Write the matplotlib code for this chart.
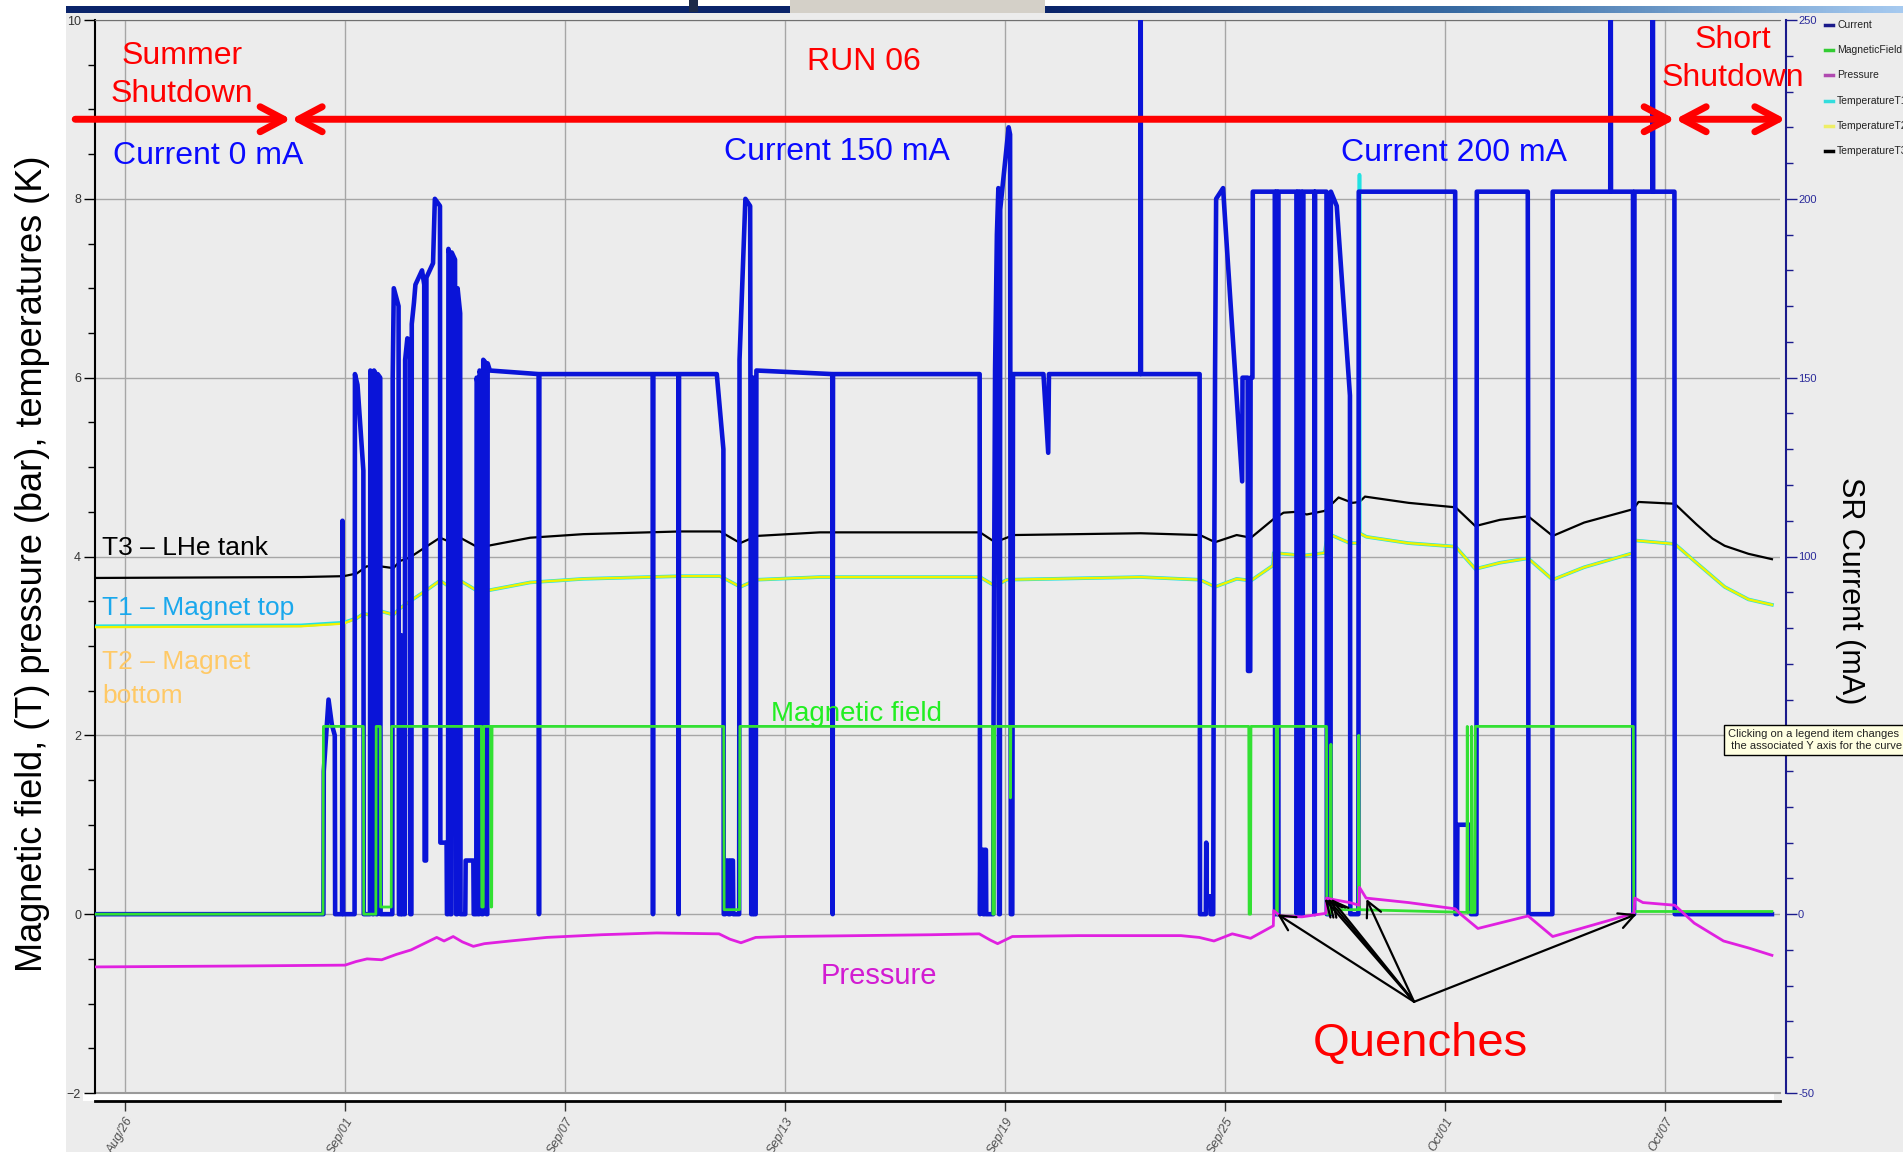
import matplotlib
matplotlib.use('Agg')
import matplotlib.pyplot as plt
import matplotlib.dates as mdates
from matplotlib.patches import Rectangle
from matplotlib.lines import Line2D
from matplotlib.colors import LinearSegmentedColormap
from matplotlib.ticker import MultipleLocator
import numpy as np
import pandas as pd

plt.rcParams['font.family'] = ['Liberation Sans', 'DejaVu Sans']

# all times are in days counted from Aug 26, 00:00
start = pd.Timestamp('2009-08-26')

# SR current (mA)
current_t = [-0.82, 5.41, 5.42, 5.55, 5.64, 5.72, 5.73,
             5.92, 5.93, 5.95,
             6.26, 6.27, 6.34, 6.50, 6.51,
             6.68, 6.69, 6.74, 6.75, 6.78, 6.79, 6.84, 6.85, 6.88, 6.89, 6.96, 6.97,
             7.29, 7.30, 7.33, 7.46, 7.47,
             7.52, 7.53, 7.55,
             7.63, 7.64, 7.70, 7.77, 7.78,
             7.81, 7.82, 7.88, 7.92, 8.10, 8.16, 8.17, 8.21, 8.22, 8.40, 8.45, 8.59, 8.60, 8.77, 8.78,
             8.81, 8.82, 8.86, 8.87, 8.90, 8.91, 9.00, 9.03, 9.06, 9.07, 9.14, 9.15,
             9.28, 9.29, 9.50, 9.51,
             9.58, 9.59, 9.62, 9.63, 9.66, 9.67, 9.72, 9.73, 9.76, 9.77, 9.85, 9.86, 9.88, 9.89, 9.95,
             11.28, 11.29, 11.30, 14.39, 14.40, 14.41, 15.09, 15.10, 15.11,
             16.14, 16.32, 16.33, 16.37, 16.38, 16.45, 16.46, 16.50, 16.51, 16.58, 16.59,
             16.75, 16.76, 16.92, 17.05, 17.08, 17.12, 17.13, 17.16, 17.20, 17.22,
             19.29, 19.30, 19.31,
             23.31, 23.32, 23.33, 23.40, 23.41, 23.44, 23.45, 23.48, 23.49,
             23.68, 23.69, 23.73, 23.78, 23.82, 23.84, 23.86, 23.87, 24.00, 24.10, 24.14, 24.16, 24.20, 24.22,
             25.05, 25.18, 25.20, 27.69, 27.70, 27.71,
             29.31, 29.32, 29.48, 29.49, 29.50, 29.60, 29.61,
             29.68, 29.69, 29.73, 29.76, 29.95, 29.98, 30.47, 30.48, 30.62, 30.63, 30.69, 30.70, 30.75, 30.76,
             31.36, 31.37, 31.39, 31.41, 31.43, 31.45, 31.46,
             31.95, 31.96, 31.98, 32.00, 32.02, 32.04, 32.06, 32.08, 32.10, 32.12, 32.14,
             32.44, 32.45, 32.46,
             32.77, 32.78, 32.88, 32.89, 33.05, 33.41, 33.42, 33.64, 33.65,
             36.28, 36.29, 36.33, 36.34, 36.70, 36.71, 36.86, 36.87,
             38.26, 38.27, 38.28, 38.93, 38.94,
             40.51, 40.52, 40.53, 41.13, 41.14, 41.16, 41.17,
             41.66, 41.67, 41.68, 42.26, 42.27, 44.92]
current_mA = [0, 0, 40, 60, 53, 50, 0,
              0, 110, 0,
              0, 151, 148, 124, 0,
              0, 152, 150, 0, 0, 152, 151, 0, 0, 151, 150, 0,
              0, 150, 175, 170, 0,
              0, 78, 0,
              0, 155, 161, 160, 0,
              0, 165, 171, 176, 180, 176, 15, 15, 178, 182, 200, 198, 20, 20, 0,
              0, 186, 184, 0, 0, 185, 183, 0, 0, 175, 168, 0,
              0, 15, 15, 0,
              0, 150, 148, 0, 0, 152, 150, 0, 0, 155, 154, 0, 0, 154, 152,
              151, 0, 151, 151, 0, 151, 151, 0, 151,
              151, 130, 0, 0, 15, 15, 0, 0, 15, 15, 0,
              0, 155, 200, 198, 0, 0, 150, 0, 0, 152,
              151, 0, 151,
              151, 0, 18, 18, 0, 0, 18, 18, 0,
              0, 60, 152, 190, 203, 0, 0, 197, 210, 220, 218, 0, 0, 151,
              151, 129, 151, 151, 300, 151,
              151, 0, 0, 20, 5, 5, 0,
              0, 50, 150, 200, 203, 198, 121, 150, 150, 68, 68, 150, 150, 202,
              202, 0, 202, 0, 202, 0, 202,
              202, 0, 202, 0, 202, 0, 202, 0, 202, 0, 202,
              202, 0, 202,
              202, 0, 0, 202, 198, 145, 0, 0, 202,
              202, 0, 0, 25, 25, 0, 0, 202,
              202, 138, 0, 0, 202,
              202, 300, 202, 202, 0, 0, 202,
              202, 300, 202, 202, 0, 0]

# magnet field (T)
field_t = [-0.82, 5.40, 5.41, 6.50, 6.51, 6.84, 6.85, 6.96, 6.97, 7.26, 7.27, 9.72, 9.73, 9.77,
           9.78, 9.97, 9.98, 10.00, 10.01, 16.33, 16.34, 16.76, 16.77, 23.66, 23.67, 23.71, 23.72,
           24.14, 24.15, 24.16, 30.65, 30.66, 30.70, 30.71, 31.40, 31.41, 31.43, 31.44, 32.77,
           32.78, 32.88, 32.89, 32.90, 33.64, 33.65, 33.67, 36.60, 36.61, 36.63, 36.72, 36.73,
           36.75, 36.82, 36.83, 41.14, 41.15, 44.92]
field_T = [0, 0, 2.1, 2.1, 0, 0, 2.1, 2.1, 0.08, 0.08, 2.1, 2.1, 0.08, 0.08,
           2.1, 2.1, 0.08, 0.08, 2.1, 2.1, 0.05, 0.05, 2.1, 2.1, 0, 0, 2.1,
           2.1, 1.3, 2.1, 2.1, 0, 0, 2.1, 2.1, 0, 0, 2.1, 2.1,
           0, 0, 1.9, 0.05, 0.05, 2.0, 0.05, 0.02, 2.1, 0.02, 0.02, 2.1,
           0.02, 0.02, 2.1, 2.1, 0.03, 0.03]

# helium pressure (bar)
pressure_t = [-0.82, 3.0, 6.0, 6.3, 6.6, 7.0, 7.4, 7.8, 8.3, 8.5, 8.7, 8.95, 9.2, 9.5, 9.8,
              10.5, 11.5, 13.0, 14.5, 16.2, 16.5, 16.8, 17.2, 18.0, 20.0, 22.0, 23.3, 23.6,
              23.8, 24.2, 26.0, 28.8, 29.3, 29.7, 30.2, 30.7, 31.32, 31.33, 31.5, 32.1, 32.76,
              32.77, 33.0, 33.4, 33.66, 33.67, 33.85, 35.0, 36.28, 36.4, 36.9, 38.27, 38.94,
              41.16, 41.18, 41.4, 42.27, 42.8, 43.6, 44.3, 44.92]
pressure_bar = [-0.59, -0.58, -0.57, -0.53, -0.50, -0.51, -0.45, -0.40, -0.30, -0.26, -0.30, -0.25, -0.31, -0.36, -0.33,
                -0.30, -0.26, -0.23, -0.21, -0.22, -0.28, -0.32, -0.26, -0.25, -0.24, -0.23, -0.22, -0.29,
                -0.33, -0.25, -0.24, -0.24, -0.26, -0.30, -0.22, -0.27, -0.13, 0.04, -0.02, -0.03, 0.01,
                0.18, 0.16, 0.13, 0.10, 0.30, 0.18, 0.13, 0.06, 0.01, -0.16, -0.02, -0.25,
                0.01, 0.18, 0.13, 0.10, -0.10, -0.30, -0.38, -0.46]

# T3 - LHe tank (K)
t3_t = [-0.82, 4.8, 5.96, 6.32, 6.59, 6.96, 7.32, 7.5, 7.77, 8.14, 8.59, 8.82, 9.14, 9.59, 9.77,
        11.05, 12.5, 15.14, 16.23, 16.78, 17.23, 18.95, 23.32, 23.73, 24.05, 24.23, 27.7, 29.32,
        29.73, 30.32, 30.71, 31.33, 31.6, 31.96, 32.23, 32.72, 33.1, 33.48, 33.67, 33.82, 35.01,
        36.29, 36.83, 37.5, 38.27, 38.94, 39.8, 41.14, 41.28, 42.27, 42.5, 42.86, 43.3, 43.63,
        44.28, 44.92]
t3_K = [3.76, 3.77, 3.78, 3.81, 3.89, 3.89, 3.87, 3.95, 3.99, 4.09, 4.21, 4.17, 4.21, 4.11, 4.11,
        4.21, 4.25, 4.28, 4.28, 4.15, 4.23, 4.27, 4.27, 4.16, 4.21, 4.24, 4.26, 4.24,
        4.16, 4.24, 4.21, 4.42, 4.49, 4.50, 4.47, 4.51, 4.66, 4.60, 4.61, 4.67, 4.60,
        4.55, 4.34, 4.41, 4.45, 4.23, 4.38, 4.53, 4.61, 4.59, 4.50, 4.36, 4.20, 4.12,
        4.03, 3.97]

# T2 - magnet bottom (K)
t2_t = [-0.82, 4.8, 5.96, 6.32, 6.5, 6.8, 6.96, 7.32, 7.5, 7.77, 8.14, 8.59, 8.82, 9.14, 9.59,
        9.77, 11.05, 12.5, 15.14, 16.23, 16.78, 17.23, 18.95, 23.32, 23.73, 24.05, 27.7, 29.32,
        29.73, 30.32, 30.71, 31.31, 31.33, 32.14, 32.72, 32.77, 32.9, 33.4, 33.66, 33.67, 33.86,
        35.0, 36.29, 36.83, 37.5, 38.27, 38.94, 39.8, 41.14, 41.18, 42.27, 42.86, 43.63, 44.28,
        44.92]
t2_K = [3.21, 3.22, 3.25, 3.31, 3.36, 3.34, 3.39, 3.35, 3.42, 3.50, 3.60, 3.73, 3.67, 3.73, 3.62,
        3.61, 3.71, 3.75, 3.78, 3.78, 3.66, 3.74, 3.77, 3.77, 3.67, 3.74, 3.77, 3.74,
        3.66, 3.75, 3.73, 3.90, 4.04, 4.01, 4.04, 4.18, 4.24, 4.15, 4.15, 4.26, 4.22,
        4.15, 4.11, 3.86, 3.93, 3.98, 3.74, 3.88, 4.04, 4.18, 4.14, 3.93, 3.66, 3.52,
        3.46]

# T1 - magnet top (K), spikes at the quenches
t1_t = [-0.82, 4.8, 5.96, 6.32, 6.5, 6.8, 6.96, 7.32, 7.5, 7.77, 8.14, 8.59, 8.82, 9.14, 9.59,
        9.77, 11.05, 12.5, 15.14, 16.23, 16.78, 17.23, 18.95, 23.32, 23.73, 24.05, 27.7, 29.32,
        29.73, 30.32, 30.71, 31.31, 31.33, 32.14, 32.72, 32.77, 32.79, 32.82, 32.9, 33.4, 33.66,
        33.67, 33.68, 33.86, 35.0, 36.29, 36.83, 37.5, 38.27, 38.94, 39.8, 41.14, 41.15, 41.17,
        42.27, 42.86, 43.63, 44.28, 44.92]
t1_K = [3.22, 3.23, 3.26, 3.31, 3.36, 3.34, 3.39, 3.35, 3.42, 3.50, 3.60, 3.73, 3.67, 3.73, 3.62,
        3.61, 3.71, 3.75, 3.78, 3.78, 3.66, 3.74, 3.77, 3.77, 3.67, 3.74, 3.77, 3.74,
        3.66, 3.75, 3.73, 3.90, 4.04, 4.01, 4.04, 4.18, 7.40, 4.22, 4.24, 4.15, 4.15,
        8.27, 4.26, 4.22, 4.15, 4.11, 3.86, 3.93, 3.98, 3.74, 3.88, 4.04, 6.10, 4.18,
        4.14, 3.93, 3.66, 3.52, 3.46]

# quench markers (day, value on left axis)
quench_t = [31.43, 32.72, 32.81, 32.90, 33.86, 41.23]
quench_v = [0.0, 0.17, 0.17, 0.17, 0.17, 0.0]

tick_days = [0, 6, 12, 18, 24, 30, 36, 42]
tick_labels = [(start + pd.Timedelta(days=d)).strftime('%b/%d') for d in tick_days]
current_ticks = [-50, 0, 50, 100, 150, 200, 250]
current_labels = ['-50', '0', '', '100', '150', '200', '250']

x0 = mdates.date2num(start)


def days(t):
    return x0 + np.asarray(t, dtype=float)


W, H = 1903, 1152
fig = plt.figure(figsize=(W / 100, H / 100), dpi=100, facecolor='#ececec')


def fx(px):
    return px / W


def fy(py):
    return 1 - py / H


# screen decorations: white margin on the left, window title bar at the top
fig.patches.append(Rectangle((0, 0), fx(66), 1, transform=fig.transFigure,
                             fc='white', ec='none', zorder=-1))
fig.patches.append(Rectangle((fx(0), fy(6)), 1, 6 / H, transform=fig.transFigure,
                             fc='white', ec='none', zorder=-1))
fig.patches.append(Rectangle((fx(66), fy(13)), fx(790 - 66), 7 / H, transform=fig.transFigure,
                             fc='#0a246a', ec='none', zorder=-1))
fig.patches.append(Rectangle((fx(790), fy(13)), fx(255), 13 / H, transform=fig.transFigure,
                             fc='#d4d0c8', ec='none', zorder=-1))
fig.patches.append(Rectangle((fx(689), fy(12)), fx(9), 12 / H, transform=fig.transFigure,
                             fc='#1c2a4a', ec='none', zorder=-1))
fig.patches.append(Rectangle((fx(83), fy(1101)), fx(1774 - 83), 8 / H, transform=fig.transFigure,
                             fc='white', ec='none', zorder=-1))
axg = fig.add_axes([fx(1045), fy(13), fx(858), 7 / H])
axg.imshow(np.linspace(0, 1, 256)[None, :], aspect='auto',
           cmap=LinearSegmentedColormap.from_list('bar', ['#0a246a', '#3a6ea5', '#a6caf0']))
axg.axis('off')

# main axes: temperatures (bottom layer), current on the right axis, field/pressure on top
ax = fig.add_axes([fx(95), fy(1093), fx(1780 - 95), (1093 - 20) / H])
ax.set_facecolor('#ececec')
ax2 = ax.twinx()
ax3 = ax.twinx()

# spine placement first: moving a spine rebuilds its ticks
ax.spines['top'].set_color('#707070')
ax.spines['right'].set_visible(False)
ax.spines['left'].set_color('black')
ax.spines['left'].set_linewidth(1.5)
ax.spines['bottom'].set_position(('outward', 6))
ax.spines['bottom'].set_linewidth(2)

navy = '#1a1a8c'
for s in ['top', 'left', 'bottom']:
    ax2.spines[s].set_visible(False)
ax2.spines['right'].set_position(('outward', 4))
ax2.spines['right'].set_color(navy)
ax2.spines['right'].set_linewidth(1.5)

ax.set_xlim(days(-0.82), days(45.14))
ax.set_ylim(-2, 10)
ax2.set_ylim(-50, 250)
ax3.set_ylim(-2, 10)
ax3.axis('off')

ax.plot(days(t3_t), t3_K, color='black', lw=1.6, zorder=2)
ax.plot(days(t1_t), t1_K, color='#22e2e2', lw=2.6, zorder=3)
ax.plot(days(t2_t), t2_K, color='#f2f200', lw=1.7, zorder=4)
ax2.plot(days(current_t), current_mA, color='#0a14d8', lw=3.3)
ax3.plot(days(field_t), field_T, color='#33e033', lw=2)
ax3.plot(days(pressure_t), pressure_bar, color='#e020e0', lw=2)

# grid and ticks
ax.tick_params(axis='y', which='major', length=8, width=1, labelsize=9, labelcolor='#333333', pad=2)
ax.tick_params(axis='y', which='minor', length=5, width=1)
ax.tick_params(axis='x', length=7, width=1, color='#333333', labelsize=9, labelcolor='#505050', pad=3)
ax.set_yticks(range(-2, 11, 2))
ax.yaxis.set_minor_locator(MultipleLocator(0.5))
ax.set_xticks(days(tick_days), tick_labels, rotation=60, ha='right',
              rotation_mode='anchor', style='italic')
ax.grid(True, which='major', color='#a6a6a6', lw=1)
ax.axhline(-2, color='#9a9a9a', lw=1.5, clip_on=False)

ax2.tick_params(axis='y', which='major', length=8, width=1, color=navy,
                labelsize=8, labelcolor='#2a2a9a', pad=1)
ax2.tick_params(axis='y', which='minor', length=5, width=1, color=navy)
ax2.set_yticks(current_ticks, current_labels)
ax2.yaxis.set_minor_locator(MultipleLocator(10))

# axis titles
fig.text(fx(33), fy(564), 'Magnetic field, (T) pressure (bar), temperatures (K)',
         rotation=90, ha='center', va='center', fontsize=26)
fig.text(fx(1850), fy(591), 'SR Current (mA)', rotation=270, ha='center', va='center', fontsize=22)

# run periods
arrow_kw = dict(color='red', lw=5, shrinkA=0, shrinkB=0, mutation_scale=20)
ax3.annotate('', xy=(x0 + 4.53, 8.89), xytext=(x0 - 1.36, 8.89), annotation_clip=False,
             arrowprops=dict(arrowstyle='->,head_length=0.85,head_width=0.45', **arrow_kw))
ax3.annotate('', xy=(x0 + 42.28, 8.89), xytext=(x0 + 4.53, 8.89), annotation_clip=False,
             arrowprops=dict(arrowstyle='<->,head_length=0.85,head_width=0.45', **arrow_kw))
ax3.annotate('', xy=(x0 + 45.3, 8.89), xytext=(x0 + 42.28, 8.89), annotation_clip=False,
             arrowprops=dict(arrowstyle='<->,head_length=0.85,head_width=0.45', **arrow_kw))

big = dict(fontsize=23, ha='center', va='center', clip_on=False)
ax3.text(x0 + 1.55, 9.38, 'Summer\nShutdown', color='red', linespacing=1.35, **big)
ax3.text(x0 + 2.26, 8.48, 'Current 0 mA', color='#0a0aff', **big)
ax3.text(x0 + 20.16, 9.53, 'RUN 06', color='red', **big)
ax3.text(x0 + 19.42, 8.52, 'Current 150 mA', color='#0a0aff', **big)
ax3.text(x0 + 36.25, 8.51, 'Current 200 mA', color='#0a0aff', **big)
ax3.text(x0 + 43.86, 9.56, 'Short\nShutdown', color='red', linespacing=1.35, **big)

# curve labels
ax3.text(x0 - 0.63, 4.10, 'T3 – LHe tank', color='black', fontsize=19, va='center')
ax3.text(x0 - 0.63, 3.42, 'T1 – Magnet top', color='#1aa8ec', fontsize=19, va='center')
ax3.text(x0 - 0.63, 2.63, 'T2 – Magnet\nbottom', color='#ffc966', fontsize=19, va='center',
         linespacing=1.5)
ax3.text(x0 + 19.94, 2.24, 'Magnetic field', color='#22ee22', fontsize=20, ha='center', va='center')
ax3.text(x0 + 20.57, -0.69, 'Pressure', color='#d21cd2', fontsize=21, ha='center', va='center')

# quenches
ax3.text(x0 + 35.32, -1.45, 'Quenches', color='red', fontsize=34, ha='center', va='center')
for qt, qv in zip(quench_t, quench_v):
    ax3.annotate('', xy=(x0 + qt, qv), xytext=(x0 + 35.16, -0.98),
                 arrowprops=dict(arrowstyle='->,head_length=0.55,head_width=0.28', color='black',
                                 lw=1.6, shrinkA=0, shrinkB=0, mutation_scale=20))

# legend of the plotting tool
legend_items = [('Current', '#1a1a8a'), ('MagneticField', '#33cc33'), ('Pressure', '#b04ab0'),
                ('TemperatureT1', '#33dddd'), ('TemperatureT2', '#eeee66'), ('TemperatureT3', 'black')]
for i, (name, c) in enumerate(legend_items):
    yy = 25 + 25.2 * i
    fig.add_artist(Line2D([fx(1825), fx(1833)], [fy(yy), fy(yy)], color=c, lw=2.5))
    fig.text(fx(1837), fy(yy), name, fontsize=7.5, va='center', color='#222222')

fig.text(fx(1728), fy(740), 'Clicking on a legend item changes\n the associated Y axis for the curve',
         fontsize=8, va='center', ha='left', color='#222222',
         bbox=dict(boxstyle='square,pad=0.35', fc='#ffffe1', ec='black', lw=1))

plt.savefig('out.png', dpi=100, facecolor=fig.get_facecolor())
